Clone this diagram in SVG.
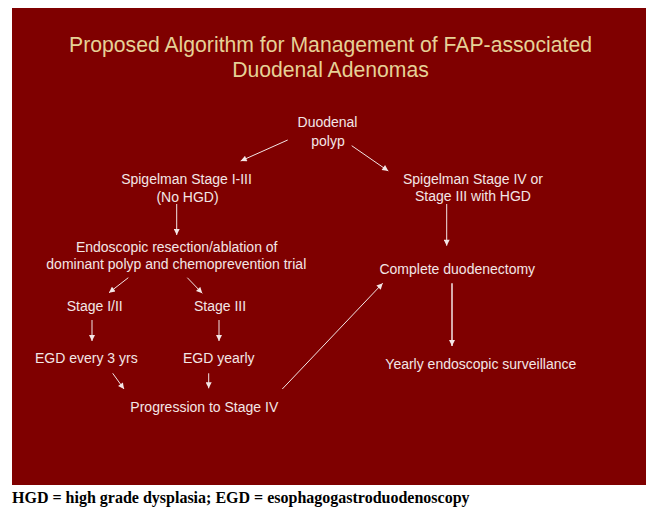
<svg xmlns="http://www.w3.org/2000/svg" width="646" height="509" viewBox="0 0 646 509">
<style>
.t{font-family:"Liberation Sans",Arial,sans-serif;font-size:14px;fill:#f3e6e6;text-anchor:middle}
.title{font-family:"Liberation Sans",Arial,sans-serif;font-size:21.2px;fill:#e6d196;text-anchor:middle}
.foot{font-family:"Liberation Serif","Times New Roman",serif;font-size:16px;font-weight:bold;fill:#000}
.c{stroke:#f3e6e6;stroke-width:1;fill:none;marker-end:url(#ah)}
</style>
<defs>
<marker id="ah" viewBox="0 0 10 10" refX="10" refY="5" markerWidth="7" markerHeight="6" markerUnits="userSpaceOnUse" orient="auto">
<path d="M0,0 L10,5 L0,10 z" fill="#f3e6e6"/>
</marker>
</defs>
<rect x="12" y="8" width="634" height="477" fill="#7f0000"/>
<g id="title">
<text class="title" x="330.5" y="51.7">Proposed Algorithm for Management of FAP-associated</text>
<text class="title" x="330.5" y="77.3">Duodenal Adenomas</text>
</g>
<g id="n-polyp"><text class="t" x="327.5" y="126.7">Duodenal</text><text class="t" x="328" y="145.7">polyp</text></g>
<g id="n-stage13"><text class="t" x="186.5" y="184.3">Spigelman Stage I-III</text><text class="t" x="187.5" y="201.7">(No HGD)</text></g>
<g id="n-stage4"><text class="t" x="473" y="184">Spigelman Stage IV or</text><text class="t" x="473" y="200.7">Stage III with HGD</text></g>
<g id="n-resect"><text class="t" x="176.7" y="251.7">Endoscopic resection/ablation of</text><text class="t" x="176.3" y="269">dominant polyp and chemoprevention trial</text></g>
<g id="n-s12"><text class="t" x="94.7" y="311">Stage I/II</text></g>
<g id="n-s3"><text class="t" x="220" y="311">Stage III</text></g>
<g id="n-egd3"><text class="t" x="86.3" y="363.3">EGD every 3 yrs</text></g>
<g id="n-egdy"><text class="t" x="218.8" y="363.3">EGD yearly</text></g>
<g id="n-prog"><text class="t" x="204.3" y="411.7">Progression to Stage IV</text></g>
<g id="n-duod"><text class="t" x="457.3" y="274">Complete duodenectomy</text></g>
<g id="n-surv"><text class="t" x="480.8" y="369.3">Yearly endoscopic surveillance</text></g>
<g id="connectors">
<line class="c" x1="287.7" y1="140" x2="240.7" y2="161"/>
<line class="c" x1="351.7" y1="145.7" x2="388.3" y2="171"/>
<line class="c" x1="176.7" y1="204" x2="176.7" y2="235"/>
<line class="c" x1="128.3" y1="277.7" x2="109" y2="292.7"/>
<line class="c" x1="187.3" y1="277.7" x2="202.3" y2="293.3"/>
<line class="c" x1="92" y1="320" x2="92" y2="341"/>
<line class="c" x1="219" y1="320" x2="219" y2="341"/>
<line class="c" x1="112.7" y1="373.3" x2="124" y2="389"/>
<line class="c" x1="208.7" y1="373.3" x2="208.7" y2="388.3"/>
<line class="c" x1="282.3" y1="389" x2="382.7" y2="283.3"/>
<line class="c" x1="446.7" y1="204" x2="446.7" y2="245.7"/>
<line class="c" x1="452" y1="283.3" x2="452" y2="346" style="stroke-width:1.5"/>
</g>
<text class="foot" x="12" y="503">HGD = high grade dysplasia; EGD = esophagogastroduodenoscopy</text>
</svg>
